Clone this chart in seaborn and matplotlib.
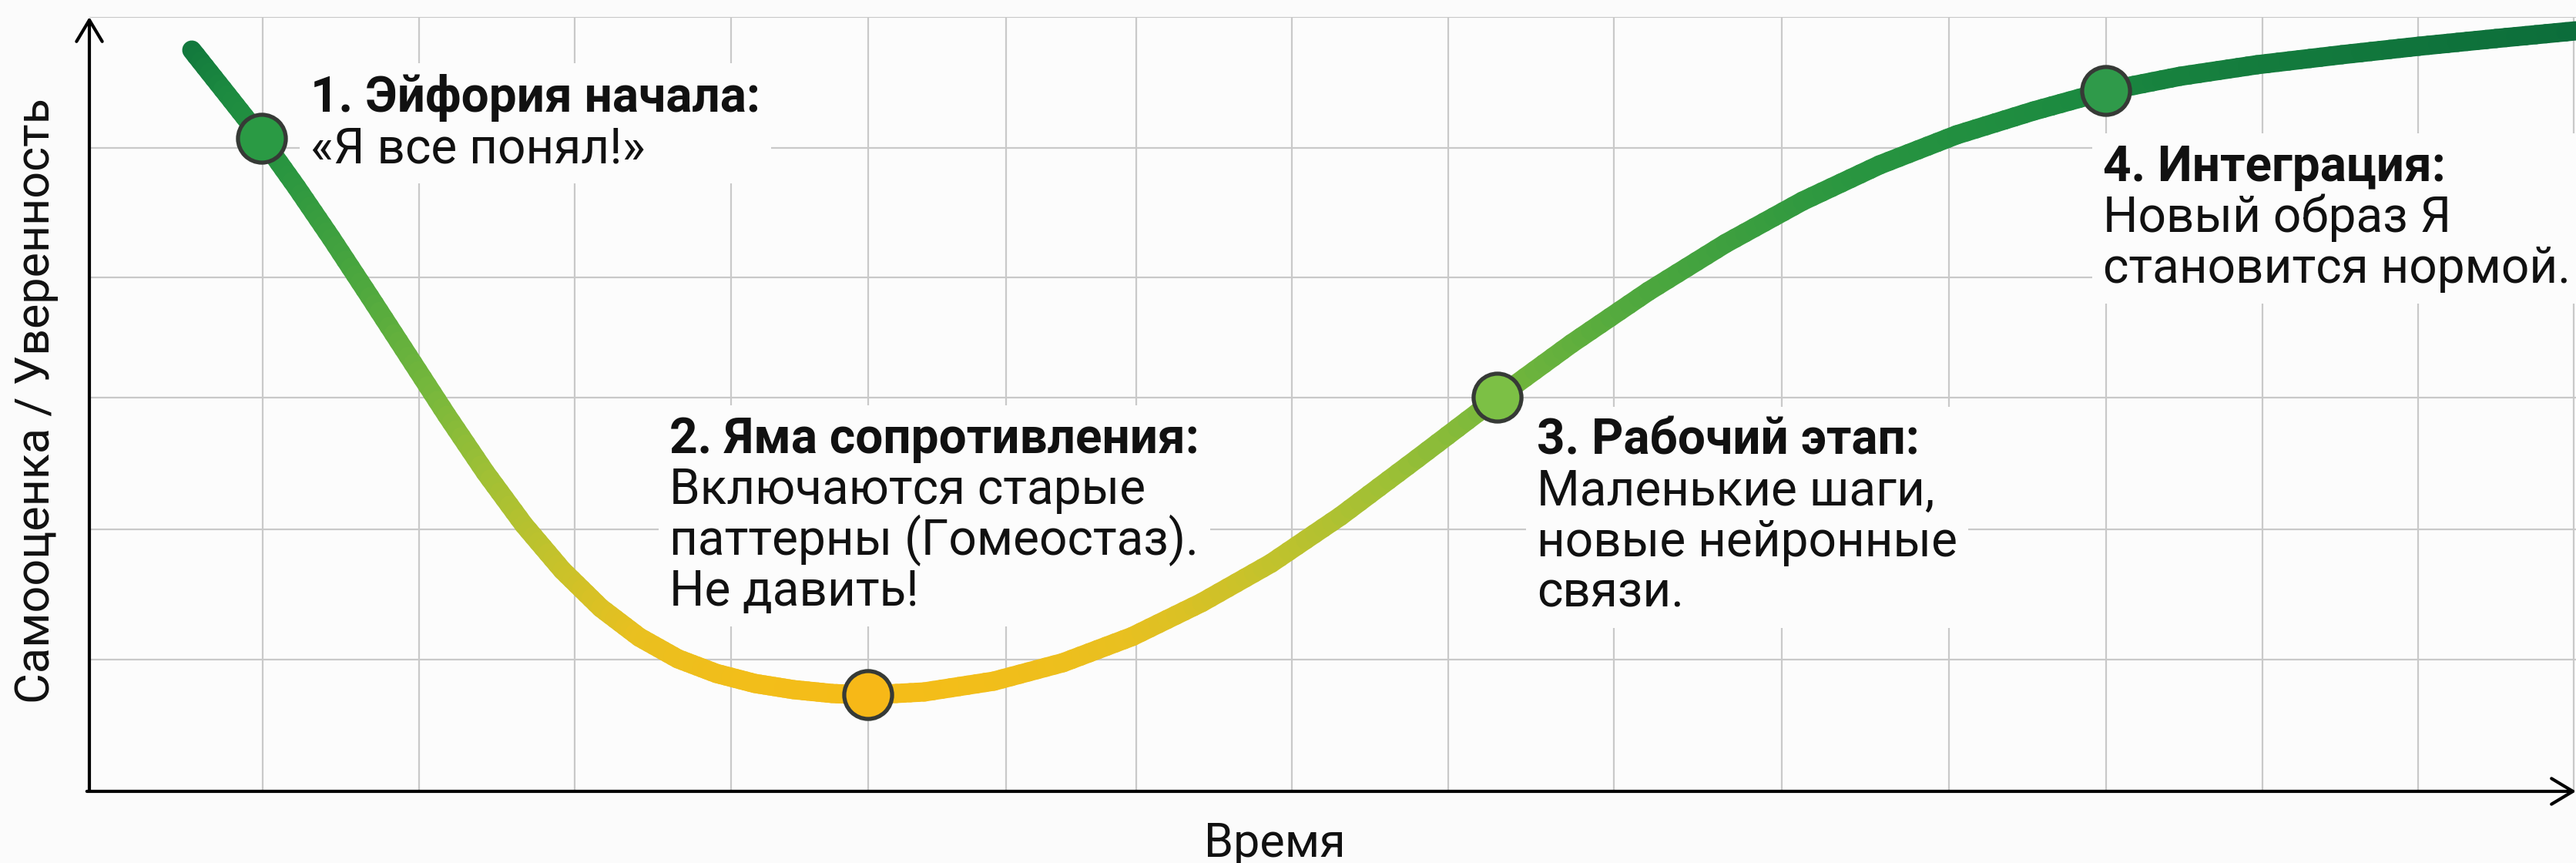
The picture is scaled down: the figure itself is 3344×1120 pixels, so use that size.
import matplotlib
matplotlib.use('Agg')
import matplotlib.pyplot as plt
import seaborn as sns
import pandas as pd
import numpy as np
from matplotlib.collections import LineCollection
from matplotlib.colors import LinearSegmentedColormap
from matplotlib.patches import Rectangle
from matplotlib.transforms import Bbox, IdentityTransform

# Кривая изменений (время / уверенность)
time = [1.33, 1.79, 2.24, 2.69, 3.14, 3.64, 4.14, 4.64, 5.14, 5.64, 6.14, 6.64,
        7.14, 7.64, 8.14, 8.64, 9.14, 9.64, 10.11, 10.84, 11.74, 12.64, 13.54,
        14.44, 15.34, 16.24, 17.24, 18.28, 19.24, 20.24, 21.24, 22.24, 23.24,
        24.24, 25.24, 26.18, 27.14, 28.14, 29.24, 30.24, 31.24, 32.28]
confidence = [9.62, 9.04, 8.47, 7.84, 7.18, 6.42, 5.65, 4.88, 4.14, 3.46, 2.87, 2.38,
              2.00, 1.72, 1.53, 1.40, 1.32, 1.27, 1.25, 1.29, 1.43, 1.67, 2.01,
              2.45, 2.96, 3.57, 4.32, 5.11, 5.81, 6.49, 7.11, 7.66, 8.13,
              8.52, 8.83, 9.09, 9.28, 9.43, 9.56, 9.67, 9.77, 9.87]

# Этапы
stage_time = [2.24, 10.11, 18.28, 26.18]
stage_conf = [8.47, 1.25, 5.11, 9.09]
stage_names = ['1', '2', '3', '4']
stage_colors = ['#2a9a44', '#f7b817', '#7cc045', '#2f9a4a']

titles = ['1. Эйфория начала:', '2. Яма сопротивления:', '3. Рабочий этап:', '4. Интеграция:']
bodies = [['«Я все понял!»'],
          ['Включаются старые', 'паттерны (Гомеостаз).', 'Не давить!'],
          ['Маленькие шаги,', 'новые нейронные', 'связи.'],
          ['Новый образ Я', 'становится нормой.']]
label_pos = [(2.87, 8.82), (7.53, 4.39), (18.79, 4.37), (26.14, 7.92)]

# Сетка (неравномерная, как на картинке)
grid_x = [2.25, 4.28, 6.30, 8.33, 10.11, 11.90, 13.59, 15.61, 17.64, 19.79,
          21.97, 24.14, 26.18, 28.21, 30.23, 32.25]
grid_y = [1.71, 3.40, 5.11, 6.67, 8.35, 10.05]

sns.set_style('white')
plt.rcParams['font.family'] = ['Roboto', 'DejaVu Sans']

W, H = 3344, 1120
fig = plt.figure(figsize=(W / 100, H / 100), dpi=100, facecolor='#fbfbfb')
ax = fig.add_axes([116 / W, (H - 1027) / H, (W - 116) / W, (1027 - 22) / H])
ax.set_facecolor('#fcfcfc')
ax.set_xlim(0, 32.28)
ax.set_ylim(0, 10.05)

ax.set_xticks(grid_x)
ax.set_yticks(grid_y)
ax.grid(True, color='#c9c9c9', lw=1.6, zorder=0)
ax.set_axisbelow(True)
ax.tick_params(length=0, labelbottom=False, labelleft=False)
for s in ax.spines.values():
    s.set_visible(False)

# градиентная линия (цвет по высоте)
cmap = LinearSegmentedColormap.from_list('curve', [
    (0.00, '#f5bd18'), (0.09, '#e8c020'), (0.20, '#c3c22c'), (0.32, '#a0c035'),
    (0.44, '#78b83c'), (0.60, '#4ea83e'), (0.77, '#2a9640'), (0.89, '#1c8a40'),
    (1.00, '#0a6a3a')])
pts = np.column_stack([time, confidence])
segs, cols = [], []
for a, b in zip(pts[:-1], pts[1:]):
    for k in range(8):
        p0 = a + (b - a) * k / 8
        p1 = a + (b - a) * (k + 1) / 8
        segs.append([p0, p1])
        cols.append((p0[1] + p1[1]) / 2)
lc = LineCollection(segs, cmap=cmap, norm=plt.Normalize(1.2, 10.0),
                    linewidths=18, capstyle='round', joinstyle='round', zorder=3)
lc.set_array(np.array(cols))
ax.add_collection(lc)

df = pd.DataFrame({'time': stage_time, 'conf': stage_conf, 'stage': stage_names})
sns.scatterplot(data=df, x='time', y='conf', hue='stage', palette=stage_colors,
                s=2000, edgecolor='#363a36', linewidth=3.8, legend=False, zorder=4, ax=ax,
                clip_on=False)
ax.set_xlabel('')
ax.set_ylabel('')

# оси со стрелками
arrow = dict(arrowstyle='->,head_length=1.0,head_width=0.6', lw=3.0, color='black',
             shrinkA=0, shrinkB=0, mutation_scale=20)
ax.annotate('', xy=(0, 1.0), xytext=(0, 0), xycoords='axes fraction', arrowprops=arrow,
            annotation_clip=False, zorder=6)
ax.annotate('', xy=(1.0, 0), xytext=(-0.001, 0), xycoords='axes fraction', arrowprops=arrow,
            annotation_clip=False, zorder=6)

fig.text(47 / W, 1 - 520 / H, 'Самооценка / Уверенность', rotation=90, ha='center',
         va='center', fontsize=44, color='#111111')
fig.text(1655 / W, (H - 1112) / H, 'Время', ha='center', va='baseline', fontsize=44,
         color='#111111')

# подписи этапов
groups = []
step = 0.66
for (x0, y0), title, body in zip(label_pos, titles, bodies):
    items = [ax.text(x0, y0, title, fontsize=46, fontweight='bold', va='baseline',
                     ha='left', color='#111111', zorder=5)]
    for i, line in enumerate(body):
        items.append(ax.text(x0, y0 - step * (i + 1), line, fontsize=46, va='baseline',
                             ha='left', color='#111111', zorder=5))
    groups.append(items)

fig.canvas.draw()
renderer = fig.canvas.get_renderer()
for items in groups:
    bb = Bbox.union([t.get_window_extent(renderer) for t in items])
    pad = 14
    ax.add_patch(Rectangle((bb.x0 - pad, bb.y0 - pad), bb.width + 2 * pad,
                           bb.height + 2 * pad, transform=IdentityTransform(),
                           facecolor='#fcfcfc', edgecolor='none', zorder=2.5,
                           clip_on=False))
ax.set_xlim(0, 32.28)
ax.set_ylim(0, 10.05)

fig.savefig('out.png', dpi=100, facecolor=fig.get_facecolor())
